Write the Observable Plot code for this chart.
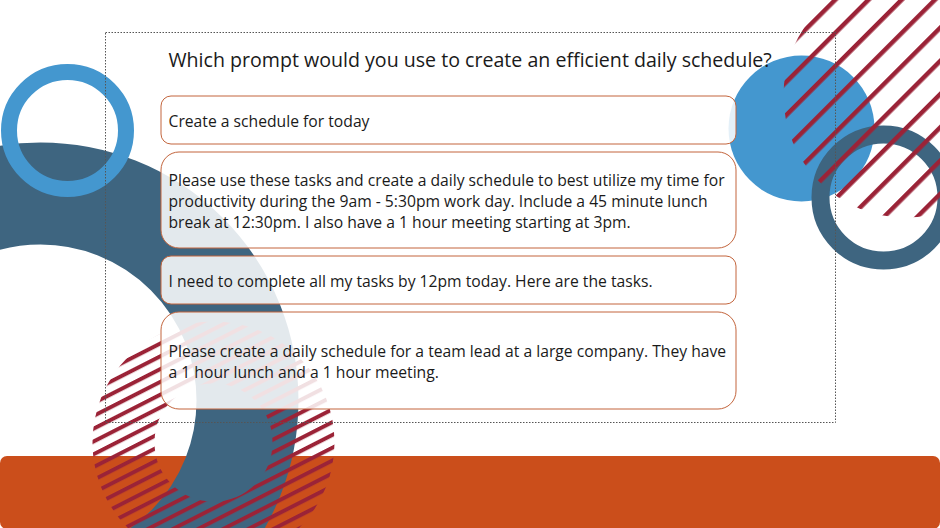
<!DOCTYPE html>
<html>
<head>
<meta charset="utf-8">
<script src="https://cdn.jsdelivr.net/npm/d3@7"></script>
<script src="https://cdn.jsdelivr.net/npm/@observablehq/plot@0.6"></script>
<style>
  html, body { margin: 0; padding: 0; background: #fff; overflow: hidden; }
  #chart svg { display: block; }
</style>
</head>
<body>
<div id="chart"></div>
<script>
// ---- data ----
const question = "Which prompt would you use to create an efficient daily schedule?";
const options = [
  "Create a schedule for today",
  "Please use these tasks and create a daily schedule to best utilize my time for\nproductivity during the 9am - 5:30pm work day. Include a 45 minute lunch\nbreak at 12:30pm. I also have a 1 hour meeting starting at 3pm.",
  "I need to complete all my tasks by 12pm today. Here are the tasks.",
  "Please create a daily schedule for a team lead at a large company. They have\na 1 hour lunch and a 1 hour meeting."
];

// ---- layout (slide geometry, pixel space) ----
const W = 940, H = 528;
const boxTop = [96, 152, 256, 312];
const boxH = [48, 96, 48, 97];
const boxX1 = 161, boxX2 = 736, textX = 168;

const C = {
  orange: "#cb4e1b",
  dark: "#3e6580",
  light: "#4497cf",
  red: "#9b2337",
  boxStroke: "#c3653d",
  ink: "#1a1a1a"
};

const rows = options.map((text, i) => ({text, i}));

function ring(cx, cy, r, w, stroke) {
  return Plot.dot([{cx, cy}], {x: "cx", y: "cy", r, fill: "none", stroke, strokeWidth: w});
}
function disc(cx, cy, r, fill) {
  return Plot.dot([{cx, cy}], {x: "cx", y: "cy", r, fill, stroke: "none"});
}

const boxMarks = rows.map(d => Plot.rect([d], {
  x1: () => boxX1, x2: () => boxX2,
  y1: r => boxTop[r.i], y2: r => boxTop[r.i] + boxH[r.i],
  rx: boxH[d.i] > 60 ? 18 : 10,
  fill: "white", fillOpacity: 0.86,
  stroke: C.boxStroke, strokeWidth: 1
}));

const chart = Plot.plot({
  width: W, height: H, margin: 0,
  x: {domain: [0, W], range: [0, W], axis: null},
  y: {domain: [0, H], range: [0, H], axis: null},
  style: {fontFamily: "'Open Sans', sans-serif", background: "white", overflow: "hidden"},
  marks: [
    // bottom orange band
    Plot.rect([{a: 0}], {x1: () => 0, x2: () => W, y1: () => 456, y2: () => 529, rx: 7, fill: C.orange}),
    // big dark ring
    ring(40, 400, 207, 102, C.dark),
    // light blue ring top-left
    ring(67, 130, 58.5, 16, C.light),
    // striped annulus bottom-left
    ring(213, 442, 90, 62, "url(#stripesA)"),
    // top-right light disc
    disc(801, 128, 73, C.light),
    // top-right dark ring
    ring(883, 197, 63, 18, C.dark),
    // top-right striped disc
    disc(905, 95, 122, "url(#stripesB)"),
    // dotted frame
    Plot.rect([{a: 0}], {x1: () => 105.5, x2: () => 835.5, y1: () => 32.5, y2: () => 422.5,
      fill: "none", stroke: "#555", strokeWidth: 1, strokeDasharray: "1.5 1.5"}),
    // answer boxes
    ...boxMarks,
    // title
    Plot.text([question], {x: () => 168, y: () => 60, text: d => d, textAnchor: "start",
      lineAnchor: "middle", fontSize: 19.6, fill: C.ink}),
    // answer texts
    Plot.text(rows, {x: () => textX, y: d => boxTop[d.i] + boxH[d.i] / 2, text: "text",
      textAnchor: "start", lineAnchor: "middle", fontSize: 15.7, lineHeight: 1.33, fill: C.ink})
  ]
});

// stripe patterns
const svg = d3.select(chart);
const defs = svg.insert("defs", ":first-child");
const pA = defs.append("pattern").attr("id", "stripesA").attr("patternUnits", "userSpaceOnUse")
  .attr("width", 40).attr("height", 11.4).attr("patternTransform", "rotate(-27)");
pA.append("rect").attr("x", 0).attr("y", 0).attr("width", 40).attr("height", 4).attr("fill", C.red);
const pB = defs.append("pattern").attr("id", "stripesB").attr("patternUnits", "userSpaceOnUse")
  .attr("width", 40).attr("height", 23.5).attr("patternTransform", "rotate(-45)");
pB.append("rect").attr("x", 0).attr("y", 0).attr("width", 40).attr("height", 4.5).attr("fill", C.red);

document.getElementById("chart").appendChild(chart);
</script>
</body>
</html>
